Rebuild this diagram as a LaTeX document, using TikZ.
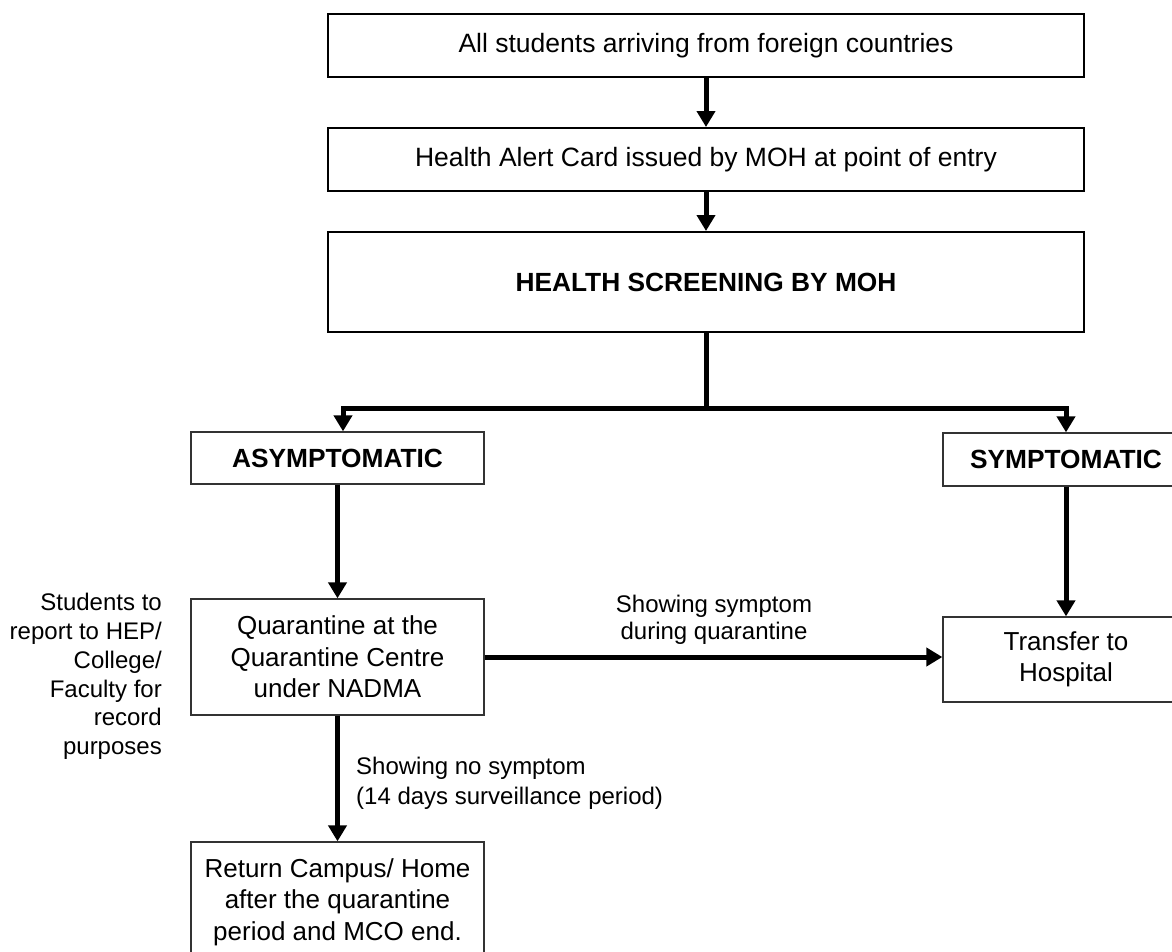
\documentclass[tikz,border=0pt]{standalone}
\usepackage{fontspec}
\setmainfont{Liberation Sans}
\usetikzlibrary{arrows.meta}
\begin{document}
\begin{tikzpicture}[x=1pt,y=-1pt,
  bigfont/.style={font=\fontsize{26}{31.5}\selectfont},
  topbox/.style={draw=black, line width=2pt, minimum width=756pt, inner sep=0pt, font=\fontsize{26.5}{31.5}\selectfont},
  lowbox/.style={draw=black!80, line width=1.3pt, inner sep=0pt, align=center, bigfont},
  boldtxt/.style={font=\fontsize{26.3}{31.5}\selectfont\bfseries},
  conn/.style={line width=5pt},
  arr/.style={line width=5pt, -{Triangle[width=18pt,length=16pt]}},
  lbl/.style={inner sep=0pt}]
\useasboundingbox (0,0) rectangle (1172,951);
\clip (0,0) rectangle (1172,951);
\fill[white] (0,0) rectangle (1172,951);

% top chain
\node[topbox, minimum height=63pt] (start) at (706,45.5) {All students arriving from foreign countries};
\node[topbox, minimum height=63pt] (card) at (706,159.5) {Health Alert Card issued by MOH at point of entry};
\node[topbox, minimum height=100pt, boldtxt] (screen) at (706,282) {HEALTH SCREENING BY MOH};

% branches
\node[lowbox, minimum width=293pt, minimum height=52pt, boldtxt] (asym) at (337.5,458) {ASYMPTOMATIC};
\node[lowbox, minimum width=246pt, minimum height=53pt, boldtxt] (sym) at (1066,459.5) {SYMPTOMATIC};
\node[lowbox, minimum width=293pt, minimum height=116pt] (quar) at (337.5,657) {Quarantine at the\\Quarantine Centre\\under NADMA};
\node[lowbox, minimum width=246pt, minimum height=85pt] (hosp) at (1066,659.5) {Transfer to\\Hospital};
\node[lowbox, minimum width=293pt, minimum height=120pt] (home) at (337.5,902) {Return Campus/ Home\\after the quarantine\\period and MCO end.};

% labels
\node[lbl, align=right, anchor=east, font=\fontsize{24}{28.7}\selectfont] (note) at (162,676.5) {Students to\\report to HEP/\\College/\\Faculty for\\record\\purposes};
\node[lbl, align=center, font=\fontsize{24}{27}\selectfont] (lsym) at (714,619.5) {Showing symptom\\during quarantine};
\node[lbl, align=left, anchor=west, font=\fontsize{24}{30}\selectfont] (lnos) at (356,783) {Showing no symptom\\(14 days surveillance period)};

% connectors
\coordinate (j) at (706,408);
\coordinate (jl) at (343,408);
\coordinate (jr) at (1066,408);
\draw[arr] (start.south) -- (card.north);
\draw[arr] (card.south) -- (screen.north);
\draw[conn] (screen.south) -- (j);
\draw[arr] (j) -- (jl) -- (jl |- asym.north);
\draw[arr] (j) -- (jr) -- (sym.north);
\draw[arr] (asym.south) -- (quar.north);
\draw[arr] (sym.south) -- (hosp.north);
\draw[arr] (quar.east) -- (quar.east -| hosp.west);
\draw[arr] (quar.south) -- (home.north);
\end{tikzpicture}
\end{document}
